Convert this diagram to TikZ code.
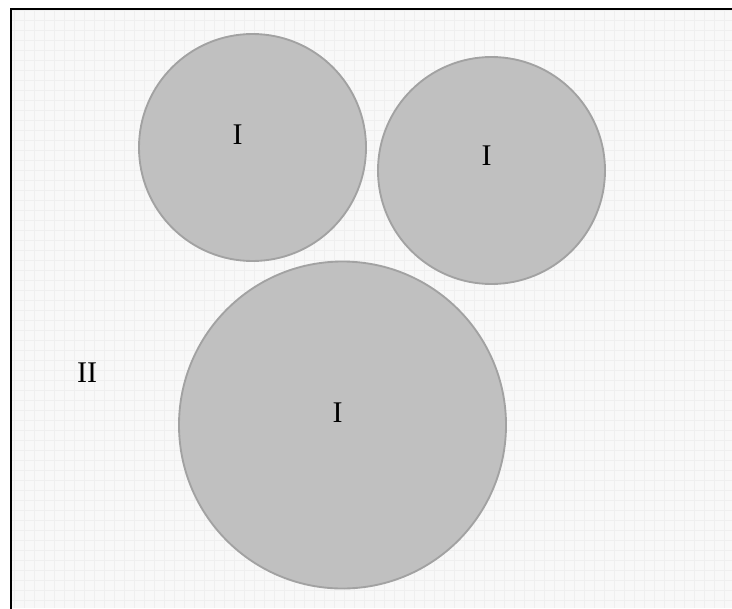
\documentclass[tikz,border=0pt]{standalone}
\usepackage{fontspec}
\setmainfont{Liberation Serif}
\definecolor{bgc}{HTML}{F8F8F8}
\definecolor{gridc}{HTML}{EFEFEF}
\definecolor{circfill}{HTML}{C0C0C0}
\definecolor{circline}{HTML}{A2A2A2}
\tikzset{
  region/.style={circle, draw=circline, line width=1.4pt, fill=circfill, inner sep=0pt},
  lbl/.style={font=\fontsize{22.5}{26}\selectfont, text=black, inner sep=0pt}
}
\begin{document}
\begin{tikzpicture}[x=0.75pt,y=-0.75pt]
\useasboundingbox (0,0) rectangle (732,608);
\fill[white] (0,0) rectangle (732,608);
\begin{scope}
\clip (10,8) rectangle (732,608);
\fill[bgc] (10,8) rectangle (732,608);
\foreach \x in {14,24,...,734} \draw[gridc, line width=0.5pt] (\x,8) -- (\x,608);
\foreach \y in {10,20,...,610} \draw[gridc, line width=0.5pt] (10,\y) -- (732,\y);
\end{scope}
\draw[black, line width=1.6pt] (10.8,612) -- (10.8,8.8) -- (740,8.8);
\node[region, minimum size=227*0.75pt] (c1) at (252.5,147.5) {};
\node[region, minimum size=227*0.75pt] (c2) at (491.5,170.5) {};
\node[region, minimum size=327*0.75pt] (c3) at (342.5,425) {};
\node[lbl] (l1) at (237.5,134.5) {I};
\node[lbl] (l2) at (486.5,156) {I};
\node[lbl] (l3) at (337.5,412.5) {I};
\node[lbl] (l4) at (87,373) {II};
\end{tikzpicture}
\end{document}
